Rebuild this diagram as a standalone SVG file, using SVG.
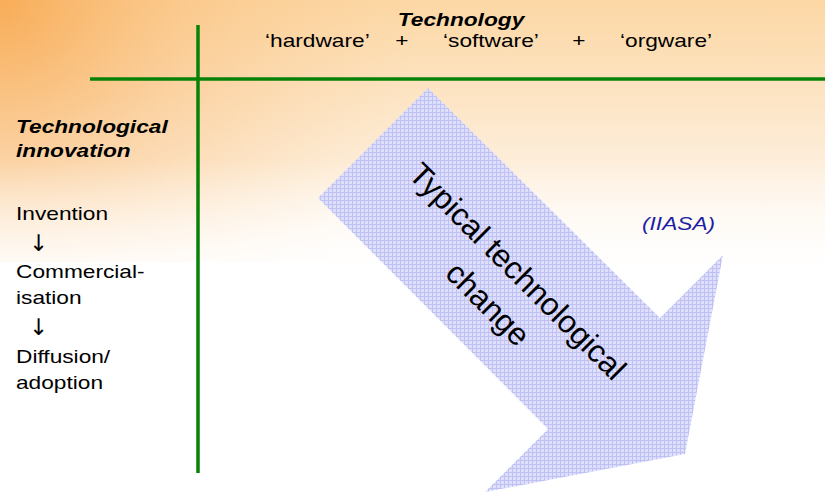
<svg xmlns="http://www.w3.org/2000/svg" width="825" height="492" viewBox="0 0 825 492">
<defs>
<linearGradient id="bgv" x1="0" y1="0" x2="0" y2="1">
<stop offset="0" stop-color="#fcd7a4"/>
<stop offset="0.55" stop-color="#fdebd4"/>
<stop offset="1" stop-color="#fffdfa"/>
</linearGradient>
<radialGradient id="bgr" cx="0" cy="0" r="420" gradientUnits="userSpaceOnUse">
<stop offset="0" stop-color="#f7a54a" stop-opacity="0.85"/>
<stop offset="0.45" stop-color="#f9b66c" stop-opacity="0.4"/>
<stop offset="1" stop-color="#fbc98c" stop-opacity="0"/>
</radialGradient>
<linearGradient id="fade" x1="0" y1="0" x2="0" y2="1">
<stop offset="0" stop-color="#ffffff" stop-opacity="0"/>
<stop offset="1" stop-color="#ffffff" stop-opacity="1"/>
</linearGradient>
<pattern id="grid" width="4" height="4" patternUnits="userSpaceOnUse">
<rect width="4" height="4" fill="#dedffb"/>
<path d="M0 0.5H4M0.5 0V4" stroke="#bfc1f5" stroke-width="1" fill="none"/>
</pattern>
<style>
.t{font-family:"Liberation Sans",Arial,sans-serif;font-size:22.7px;fill:#000}
.bi{font-weight:bold;font-style:italic}
.ar{font-family:"DejaVu Sans",sans-serif;font-size:28px;fill:#000}
.ax{stroke:#078207;stroke-width:3.5;fill:none}
</style>
</defs>
<rect width="825" height="492" fill="#ffffff"/>
<rect width="825" height="262" fill="url(#bgv)"/>
<rect width="825" height="262" fill="url(#bgr)"/>
<rect y="160" width="825" height="102" fill="url(#fade)" opacity="0.75"/>

<g id="axes">
<line class="ax" x1="198" y1="25" x2="198" y2="473"/>
<line class="ax" x1="90" y1="79" x2="825" y2="79"/>
</g>

<g id="technology-header">
<text class="t bi" text-anchor="middle" transform="translate(461,26) scale(1,0.82)">Technology</text>
<text class="t" transform="translate(265,47) scale(1,0.82)">‘hardware’</text>
<text class="t" text-anchor="middle" transform="translate(402,47) scale(1,0.82)">+</text>
<text class="t" transform="translate(443,47) scale(1,0.82)">‘software’</text>
<text class="t" text-anchor="middle" transform="translate(579,47) scale(1,0.82)">+</text>
<text class="t" transform="translate(620,47) scale(1,0.82)">‘orgware’</text>
</g>

<g id="innovation-column">
<text class="t bi" transform="translate(16,133) scale(1,0.82)">Technological</text>
<text class="t bi" transform="translate(16,157) scale(1,0.82)">innovation</text>
<text class="t" transform="translate(16,220) scale(1,0.82)">Invention</text>
<text class="ar" transform="translate(29,251) scale(0.8,0.82)">↓</text>
<text class="t" transform="translate(16,278) scale(1,0.82)">Commercial-</text>
<text class="t" transform="translate(16,304) scale(1,0.82)">isation</text>
<text class="ar" transform="translate(29,335) scale(0.8,0.82)">↓</text>
<text class="t" transform="translate(16,363) scale(1,0.82)">Diffusion/</text>
<text class="t" transform="translate(16,389) scale(1,0.82)">adoption</text>
</g>

<g id="change-arrow">
<polygon points="428,88 660,318 723,255 685,454 485,492 548,429 318,198" fill="url(#grid)"/>
<g transform="translate(510,279) rotate(45)" font-family="Liberation Sans, Arial, sans-serif" font-size="31.6" fill="#000">
<text text-anchor="middle" x="0" y="0">Typical technological</text>
<text text-anchor="middle" x="2" y="44">change</text>
</g>
</g>

<g id="iiasa-label">
<text class="t" font-style="italic" style="fill:#1f1fa3" transform="translate(642,230) scale(1,0.82)">(IIASA)</text>
</g>
</svg>
